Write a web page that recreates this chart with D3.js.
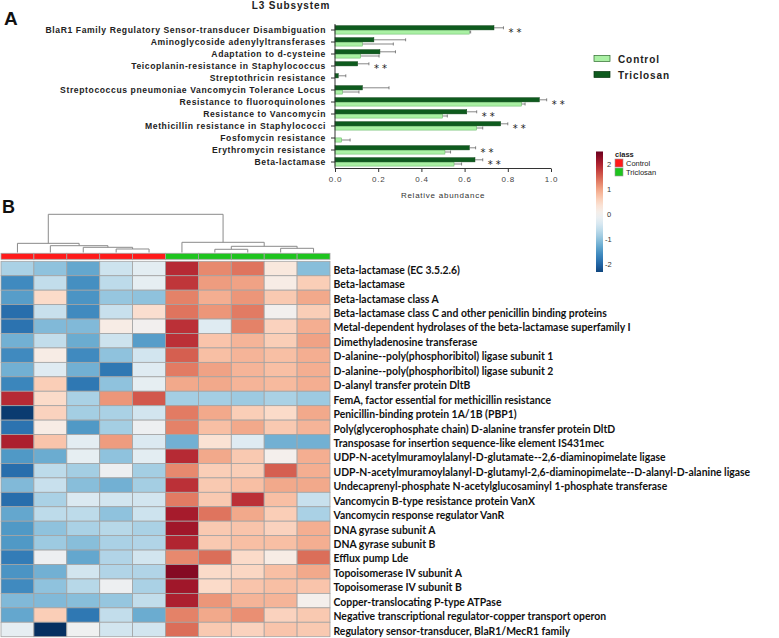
<!DOCTYPE html>
<html>
<head>
<meta charset="utf-8">
<script src="https://cdn.jsdelivr.net/npm/d3@7/dist/d3.min.js"></script>
<style>
  html, body { margin: 0; padding: 0; background: #fff; }
  svg { display: block; }
</style>
</head>
<body>
<svg id="chart" width="779" height="638"></svg>
<script>
// ---------------- DATA: panel A (bar chart) ----------------
const barCategories = [
  "BlaR1 Family Regulatory Sensor-transducer Disambiguation",
  "Aminoglycoside adenylyltransferases",
  "Adaptation to d-cysteine",
  "Teicoplanin-resistance in Staphylococcus",
  "Streptothricin resistance",
  "Streptococcus pneumoniae Vancomycin Tolerance Locus",
  "Resistance to fluoroquinolones",
  "Resistance to Vancomycin",
  "Methicillin resistance in Staphylococci",
  "Fosfomycin resistance",
  "Erythromycin resistance",
  "Beta-lactamase"
];
const triclosanValues = [0.736, 0.180, 0.208, 0.105, 0.015, 0.127, 0.946, 0.610, 0.767, 0.000, 0.622, 0.648];
const triclosanErrors = [0.044, 0.147, 0.072, 0.052, 0.035, 0.123, 0.034, 0.046, 0.033, 0.000, 0.029, 0.036];
const controlValues   = [0.622, 0.127, 0.119, 0.000, 0.000, 0.035, 0.864, 0.498, 0.656, 0.031, 0.509, 0.551];
const controlErrors   = [0.006, 0.143, 0.085, 0.000, 0.000, 0.076, 0.016, 0.022, 0.028, 0.039, 0.026, 0.035];
const significance    = ["**", "", "", "**", "", "", "**", "**", "**", "", "**", "**"];
const barSeries = ["Control", "Triclosan"];
const xTickValues = [0, 0.2, 0.4, 0.6, 0.8, 1.0];

// ---------------- DATA: panel B (heatmap) ----------------
const heatRows = [
  "Beta-lactamase (EC 3.5.2.6)",
  "Beta-lactamase",
  "Beta-lactamase class A",
  "Beta-lactamase class C and other penicillin binding proteins",
  "Metal-dependent hydrolases of the beta-lactamase superfamily I",
  "Dimethyladenosine transferase",
  "D-alanine--poly(phosphoribitol) ligase subunit 1",
  "D-alanine--poly(phosphoribitol) ligase subunit 2",
  "D-alanyl transfer protein DltB",
  "FemA, factor essential for methicillin resistance",
  "Penicillin-binding protein 1A/1B (PBP1)",
  "Poly(glycerophosphate chain) D-alanine transfer protein DltD",
  "Transposase for insertion sequence-like element IS431mec",
  "UDP-N-acetylmuramoylalanyl-D-glutamate--2,6-diaminopimelate ligase",
  "UDP-N-acetylmuramoylalanyl-D-glutamyl-2,6-diaminopimelate--D-alanyl-D-alanine ligase",
  "Undecaprenyl-phosphate N-acetylglucosaminyl 1-phosphate transferase",
  "Vancomycin B-type resistance protein VanX",
  "Vancomycin response regulator VanR",
  "DNA gyrase subunit A",
  "DNA gyrase subunit B",
  "Efflux pump Lde",
  "Topoisomerase IV subunit A",
  "Topoisomerase IV subunit B",
  "Copper-translocating P-type ATPase",
  "Negative transcriptional regulator-copper transport operon",
  "Regulatory sensor-transducer, BlaR1/MecR1 family"
];
const sampleNames = ["C1", "C2", "C3", "C4", "C5", "T1", "T2", "T3", "T4", "T5"];
const sampleClass = ["Control", "Control", "Control", "Control", "Control",
                     "Triclosan", "Triclosan", "Triclosan", "Triclosan", "Triclosan"];
const heatValues = [
  [-0.80, -1.00, -1.30, -0.50, -0.25,  1.90,  1.20,  1.35,  0.25, -1.05],
  [-1.60, -0.60, -1.55, -0.65, -0.20,  1.80,  1.05,  1.00,  0.15,  0.60],
  [-1.40,  0.45, -1.50, -0.95, -1.00,  1.25,  0.90,  1.10,  0.65,  0.95],
  [-1.90, -0.55, -1.60, -0.55,  0.40,  1.35,  1.10,  1.30,  0.00,  0.60],
  [-1.85, -1.10, -1.10,  0.15,  0.00,  1.85, -0.30,  1.25,  0.55,  0.90],
  [-1.20, -0.60, -1.25, -0.50, -1.40,  1.85,  0.70,  0.85,  0.60,  1.00],
  [-1.60,  0.15, -1.60, -1.00, -0.45,  1.50,  0.75,  0.85,  0.75,  0.90],
  [-1.20, -0.30, -1.20, -1.80, -0.30,  1.30,  1.00,  0.85,  0.75,  0.90],
  [-1.65,  0.60, -1.80, -1.00, -0.20,  0.95,  0.95,  0.85,  0.80,  0.90],
  [ 1.90,  0.45, -0.80,  1.10,  1.55, -0.85, -0.85, -0.90, -0.80, -0.90],
  [-2.40,  0.55, -0.85, -0.80, -0.45,  1.30,  0.95,  0.60,  0.45,  0.95],
  [-1.85,  0.15, -1.45, -0.85, -0.10,  1.25,  0.75,  0.95,  0.65,  0.85],
  [ 2.00,  0.70, -0.25,  1.05, -0.35, -1.20,  0.35, -0.30, -1.20, -1.20],
  [-1.45, -1.25, -0.20, -1.00, -0.25,  1.90,  0.95,  0.65,  0.05,  0.90],
  [-1.90, -0.65, -0.85, -0.10, -0.85,  1.20,  0.60,  0.60,  1.50,  0.90],
  [-1.10, -0.55, -1.05, -1.20, -0.85,  1.85,  0.65,  0.75,  0.95,  0.95],
  [-1.90, -0.80, -0.35, -0.45, -0.45,  1.30,  0.65,  1.85,  0.75, -0.55],
  [-1.30, -0.65, -0.65, -1.00, -0.50,  2.05,  1.35,  0.95,  0.60, -0.80],
  [-1.45, -1.00, -0.80, -0.70, -0.80,  2.10,  0.65,  0.70,  0.55,  0.90],
  [-1.45, -0.90, -1.05, -0.80, -0.75,  1.95,  0.65,  0.75,  0.75,  0.90],
  [-1.75, -0.10, -1.30, -0.75, -0.45,  1.20,  1.40,  0.45,  0.15,  1.40],
  [-1.50, -1.20, -0.45, -0.75, -0.75,  2.30,  0.45,  0.50,  0.75,  0.95],
  [-1.60, -1.00, -0.70, -0.10, -0.80,  2.10,  0.45,  0.70,  0.75,  0.70],
  [-1.10, -1.10, -1.05, -0.95, -0.60,  2.00,  1.10,  0.85,  0.85,  0.05],
  [-1.30,  0.60, -1.80, -0.60, -1.25,  1.25,  0.95,  1.15,  0.55,  0.65],
  [-0.20, -2.50, -0.05, -0.45, -0.45,  1.40,  0.65,  0.55,  0.70,  0.65]
];
const colorbarTicks = [-2, -1, 0, 1, 2];
const colorbarRange = [-2.3, 2.48];
// column dendrogram: nested [left, right, height]; leaves are sample indices
const columnTree = [
  [0, [1, [2, [3, 4, 0.92], 1.36], 1.78], 2.40],
  [5, [[6, 7, 0.84], [8, 9, 1.10], 1.62], 2.67],
  10.0
];
const classColors = { Control: "#ff1a1a", Triclosan: "#1ec41e" };

// ---------------- DRAWING ----------------
const svg = d3.select("#chart");
const barFont = "'Liberation Sans', Arial, sans-serif";

// Panel letters
svg.append("text").attr("x", 4).attr("y", 25).text("A")
  .attr("font-family", barFont).attr("font-weight", "bold").attr("font-size", 19).attr("fill", "#111");
svg.append("text").attr("x", 2).attr("y", 213).text("B")
  .attr("font-family", barFont).attr("font-weight", "bold").attr("font-size", 18).attr("fill", "#111");

// ---- Panel A ----
const x = d3.scaleLinear().domain([0, 1]).range([335, 551]);
const y = d3.scaleBand().domain(barCategories).range([24, 168]);
const sub = d3.scaleBand().domain(["Triclosan", "Control"]).range([-4.3, 4.1]);
const barColor = { Control: "#aaf0a4", Triclosan: "#0e5b1e" };
const barStroke = { Control: "#62b462", Triclosan: "#0a4315" };
const seriesData = {
  Control: { v: controlValues, e: controlErrors },
  Triclosan: { v: triclosanValues, e: triclosanErrors }
};

svg.append("text").attr("x", 291).attr("y", 9).attr("text-anchor", "middle")
  .text("L3 Subsystem").attr("font-family", barFont).attr("font-weight", "bold")
  .attr("font-size", 10).attr("letter-spacing", 0.9).attr("fill", "#222");

const gA = svg.append("g");
barSeries.forEach(s => {
  const d = seriesData[s];
  barCategories.forEach((c, i) => {
    const yc = y(c) + y.bandwidth() / 2;
    const y0 = yc + sub(s);
    if (d.v[i] > 0) {
      gA.append("rect").attr("x", x(0)).attr("y", y0)
        .attr("width", x(d.v[i]) - x(0)).attr("height", sub.bandwidth())
        .attr("fill", barColor[s]).attr("stroke", barStroke[s]).attr("stroke-width", 0.5);
    }
    if (d.e[i] > 0) {
      const ym = y0 + sub.bandwidth() / 2;
      gA.append("line").attr("x1", x(d.v[i])).attr("x2", x(d.v[i] + d.e[i]))
        .attr("y1", ym).attr("y2", ym).attr("stroke", "#555").attr("stroke-width", 0.7);
      gA.append("line").attr("x1", x(d.v[i] + d.e[i])).attr("x2", x(d.v[i] + d.e[i]))
        .attr("y1", ym - 1.5).attr("y2", ym + 1.5).attr("stroke", "#555").attr("stroke-width", 0.7);
    }
  });
});
// significance marks
barCategories.forEach((c, i) => {
  if (!significance[i]) return;
  const end = Math.max(triclosanValues[i] + triclosanErrors[i], controlValues[i] + controlErrors[i]);
  gA.append("text").attr("x", x(end) + 5).attr("y", y(c) + y.bandwidth() / 2 + 6)
    .text(significance[i]).attr("font-family", "'DejaVu Sans', sans-serif")
    .attr("font-size", 10).attr("letter-spacing", 3).attr("fill", "#222");
});

// axes
const yAxis = gA.append("g").attr("transform", `translate(${x(0)},0)`)
  .call(d3.axisLeft(y).tickSize(4).tickPadding(5));
yAxis.select(".domain").attr("stroke", "#333").attr("d", `M-0,24V168.5`);
yAxis.selectAll(".tick line").attr("stroke", "#333");
yAxis.selectAll("text").attr("font-family", barFont).attr("font-weight", "bold")
  .attr("font-size", 8.6).attr("letter-spacing", 0.6).attr("fill", "#222").attr("dy", "0.36em");

const xAxis = gA.append("g").attr("transform", "translate(0,168.5)")
  .call(d3.axisBottom(x).tickValues(xTickValues).tickFormat(d3.format(".1f")).tickSize(3.5).tickPadding(4));
xAxis.select(".domain").attr("stroke", "#333").attr("d", `M${x(0)},0H${x(1)}`);
xAxis.selectAll(".tick line").attr("stroke", "#333");
xAxis.selectAll("text").attr("font-family", barFont).attr("font-size", 8)
  .attr("letter-spacing", 0.8).attr("fill", "#444");

svg.append("text").attr("x", (x(0) + x(1)) / 2).attr("y", 198).attr("text-anchor", "middle")
  .text("Relative abundance").attr("font-family", barFont).attr("font-size", 8)
  .attr("letter-spacing", 0.75).attr("fill", "#333");

// legend A
const legA = svg.append("g");
barSeries.forEach((s, i) => {
  legA.append("rect").attr("x", 594).attr("y", 55.5 + i * 16).attr("width", 16).attr("height", 6)
    .attr("fill", barColor[s]).attr("stroke", s === "Control" ? "#2d6a2d" : "#08360f").attr("stroke-width", 0.7);
  legA.append("text").attr("x", 618).attr("y", 62.5 + i * 16).text(s)
    .attr("font-family", barFont).attr("font-weight", "bold").attr("font-size", 10)
    .attr("letter-spacing", 0.9).attr("fill", "#222");
});

// ---- Panel B ----
const color = d3.scaleSequential(t => d3.interpolateRdBu(1 - t)).domain([-2.5, 2.5]);
const hx = d3.scaleBand().domain(d3.range(sampleNames.length)).range([1, 330]);
const hy = d3.scaleBand().domain(heatRows).range([261.3, 636.7]);
const gB = svg.append("g");

heatValues.forEach((row, r) => {
  row.forEach((v, c) => {
    gB.append("rect").attr("x", hx(c)).attr("y", hy(heatRows[r]))
      .attr("width", hx.bandwidth()).attr("height", hy.bandwidth())
      .attr("fill", color(v)).attr("stroke", "#a3a3a3").attr("stroke-width", 0.8);
  });
});
// annotation bar
sampleClass.forEach((cl, c) => {
  gB.append("rect").attr("x", hx(c)).attr("y", 253.3).attr("width", hx.bandwidth()).attr("height", 6)
    .attr("fill", classColors[cl]).attr("stroke", "#a3a3a3").attr("stroke-width", 0.8);
});
// row labels
heatRows.forEach(name => {
  gB.append("text").attr("x", 333.5).attr("y", hy(name) + hy.bandwidth() / 2 + 5.2).text(name)
    .attr("font-family", "Lato, 'Open Sans', sans-serif").attr("font-weight", "bold")
    .attr("font-size", 10.4).attr("fill", "#111");
});

// dendrogram
const hgt = d3.scaleLinear().domain([0, columnTree[2]]).range([252.5, 214.3]);
function drawNode(n) {
  if (typeof n === "number") return { x: hx(n) + hx.bandwidth() / 2, h: 0 };
  const a = drawNode(n[0]), b = drawNode(n[1]), h = n[2];
  const p = d3.path();
  p.moveTo(a.x, hgt(a.h)); p.lineTo(a.x, hgt(h)); p.lineTo(b.x, hgt(h)); p.lineTo(b.x, hgt(b.h));
  gB.append("path").attr("d", p.toString()).attr("fill", "none").attr("stroke", "#8a8a8a").attr("stroke-width", 1);
  return { x: (a.x + b.x) / 2, h };
}
drawNode(columnTree);

// colorbar
const cb = d3.scaleLinear().domain(colorbarRange).range([272, 151.5]);
const defs = svg.append("defs");
const grad = defs.append("linearGradient").attr("id", "cbg").attr("x1", 0).attr("x2", 0).attr("y1", 1).attr("y2", 0);
d3.range(0, 1.0001, 0.05).forEach(t => {
  const v = colorbarRange[0] + t * (colorbarRange[1] - colorbarRange[0]);
  grad.append("stop").attr("offset", t).attr("stop-color", color(v));
});
svg.append("rect").attr("x", 596).attr("y", cb(colorbarRange[1])).attr("width", 7)
  .attr("height", cb(colorbarRange[0]) - cb(colorbarRange[1])).attr("fill", "url(#cbg)");
colorbarTicks.forEach(t => {
  svg.append("text").attr("x", t < 0 ? 605 : 607).attr("y", cb(t) + 3).text(t)
    .attr("font-family", barFont).attr("font-size", 7.5).attr("fill", "#333");
});
// class legend
svg.append("text").attr("x", 615).attr("y", 156.5).text("class")
  .attr("font-family", barFont).attr("font-weight", "bold").attr("font-size", 7.5).attr("fill", "#222");
["Control", "Triclosan"].forEach((cl, i) => {
  svg.append("rect").attr("x", 615).attr("y", 159 + i * 9).attr("width", 8).attr("height", 8)
    .attr("fill", classColors[cl]).attr("stroke", "#9a9a9a").attr("stroke-width", 0.6);
  svg.append("text").attr("x", 626).attr("y", 165.5 + i * 9).text(cl)
    .attr("font-family", barFont).attr("font-size", 7.5).attr("fill", "#222");
});
</script>
</body>
</html>
